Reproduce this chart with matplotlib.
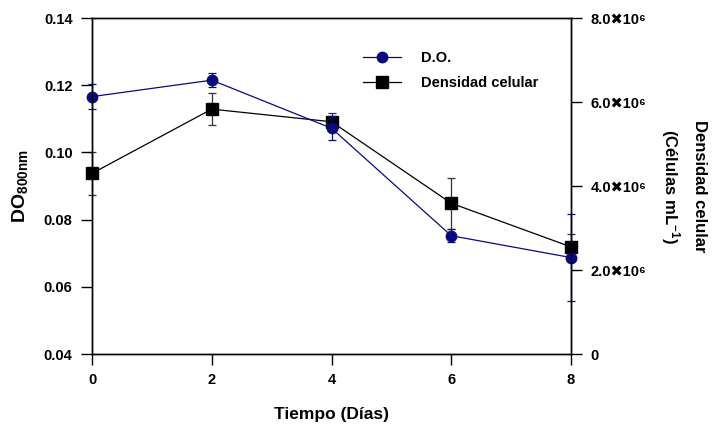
import matplotlib
matplotlib.use("Agg")
import matplotlib.pyplot as plt
from matplotlib.ticker import FixedLocator, FixedFormatter
from matplotlib.lines import Line2D

plt.rcParams['font.family'] = ['Liberation Sans', 'DejaVu Sans']
plt.rcParams['font.weight'] = 'bold'
plt.rcParams['mathtext.fontset'] = 'custom'
plt.rcParams['mathtext.rm'] = 'Liberation Sans:bold'
plt.rcParams['mathtext.bf'] = 'Liberation Sans:bold'
plt.rcParams['mathtext.it'] = 'Liberation Sans:bold'

dias = [0, 2, 4, 6, 8]
do_vals = [0.1166, 0.1215, 0.1072, 0.0752, 0.0687]
do_err = [0.0038, 0.0020, 0.0035, 0.0020, 0.0130]
dens_vals = [4.30e6, 5.83e6, 5.53e6, 3.59e6, 2.55e6]
dens_err = [0.51e6, 0.38e6, 0.22e6, 0.61e6, 0.30e6]

left_ticks = [0.04, 0.06, 0.08, 0.10, 0.12, 0.14]
left_labels = ["0.04", "0.06", "0.08", "0.10", "0.12", "0.14"]
right_ticks = [0, 2e6, 4e6, 6e6, 8e6]
right_labels = ["0", "2.0\u271610\u2076", "4.0\u271610\u2076", "6.0\u271610\u2076", "8.0\u271610\u2076"]
x_ticks = [0, 2, 4, 6, 8]

navy = '#0a0a80'

fig = plt.figure(figsize=(7.12, 4.28), dpi=100)
ax = fig.add_axes([92/712, 1-354/428, (571-92)/712, (354-18)/428])
ax2 = ax.twinx()
ax.set_zorder(ax2.get_zorder() + 1)
ax.patch.set_visible(False)

h1 = ax.errorbar(dias, do_vals, yerr=do_err, color=navy, marker='o', markersize=7.5,
                 lw=0.9, capsize=3, elinewidth=0.9, capthick=0.9)
h2 = ax2.errorbar(dias, dens_vals, yerr=dens_err, color='black', marker='s', markersize=8,
                  lw=0.9, capsize=3, elinewidth=0.9, capthick=0.9, ecolor='#333333')
for h in (h1, h2):
    for child in h.get_children():
        child.set_clip_on(False)

ax.set_xlim(0, 8)
ax.set_ylim(0.04, 0.14)
ax2.set_ylim(0, 8e6)

ax.xaxis.set_major_locator(FixedLocator(x_ticks))
ax.set_xticklabels([str(v) for v in x_ticks])
ax.yaxis.set_major_locator(FixedLocator(left_ticks))
ax.yaxis.set_major_formatter(FixedFormatter(left_labels))
ax2.yaxis.set_major_locator(FixedLocator(right_ticks))
ax2.yaxis.set_major_formatter(FixedFormatter(right_labels))

for a in (ax, ax2):
    a.tick_params(direction='out', length=8, width=1, labelsize=10.5, pad=6)
    for s in a.spines.values():
        s.set_linewidth(1)
for lab in ax.get_xticklabels() + ax.get_yticklabels() + ax2.get_yticklabels():
    lab.set_fontweight('bold')

ax.set_xlabel('Tiempo (Días)', fontsize=12.5, fontweight='bold', labelpad=14)
ax.set_ylabel(r'DO$_{\mathbf{800nm}}$', fontsize=14, fontweight='bold', labelpad=10)
ax2.set_ylabel('Densidad celular\n(Células mL$^{-1}$)', fontsize=12, fontweight='bold',
               rotation=270, labelpad=44, linespacing=1.6)

leg_h = [Line2D([], [], color=navy, marker='o', markersize=7.5, lw=0.9),
         Line2D([], [], color='black', marker='s', markersize=8, lw=0.9)]
fig.legend(handles=leg_h, labels=['D.O.', 'Densidad celular'], loc='upper left',
           bbox_to_anchor=(350/712, 1-38/428), frameon=False,
           handlelength=2.6, labelspacing=0.75, handletextpad=1.4,
           prop={'weight': 'bold', 'size': 10.5})

fig.savefig('out.png', dpi=100)
